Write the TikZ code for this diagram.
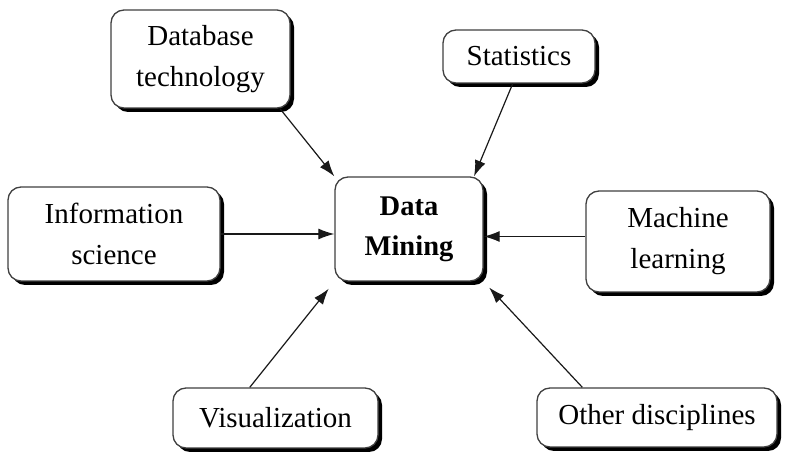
\documentclass[tikz,border=0pt]{standalone}
\usepackage{fontspec}
\setmainfont{Liberation Serif}
\usepackage{tikz}
\usetikzlibrary{shadows}
\usetikzlibrary{arrows.meta}

\begin{document}
\begin{tikzpicture}[x=1pt,y=1pt,
        box/.style={draw=black!75,line width=1.3pt,fill=white,rounded corners=13pt,
            align=center,inner sep=0pt,font=\fontsize{29}{41}\selectfont,
            drop shadow={shadow xshift=4pt,shadow yshift=-4pt,opacity=1,fill=black}},
        arr/.style={draw=black!90,line width=1.2pt,-{Latex[length=16pt,width=11pt]}}]
        \useasboundingbox (0,0) rectangle (785,455);

        \node[box,minimum width=148pt,minimum height=104pt,font=\fontsize{28.5}{40}\selectfont\bfseries] (dm) at (409,226) {Data\\Mining};
        \node[box,minimum width=179pt,minimum height=98pt] (db) at (200.5,396) {Database\\technology};
        \node[box,minimum width=152pt,minimum height=53pt] (stat) at (519,398.5) {Statistics};
        \node[box,minimum width=212pt,minimum height=94pt] (info) at (114,221) {Information\\science};
        \node[box,minimum width=184pt,minimum height=101pt] (ml) at (678,213.5) {Machine\\learning};
        \node[box,minimum width=205pt,minimum height=60pt] (vis) at (275.5,37) {Visualization};
        \node[box,minimum width=240pt,minimum height=59pt] (oth) at (657,37.5) {Other disciplines};

        % arrows into the centre box
        \draw[arr] (db.-32) -- (dm.north west);
        \draw[arr] (stat.-103) -- (dm.39);
        \draw[arr] (info.east) -- (info.east -| dm.west);
        \draw[arr] ([yshift=5pt]ml.west) -- ([yshift=5pt]ml.west -| dm.east);
        \draw[arr,shorten >=9pt] (vis.130) -- (dm.south west);
        \draw[arr,shorten >=8pt] (oth.158) -- (dm.south east);
    \end{tikzpicture}
\end{document}
